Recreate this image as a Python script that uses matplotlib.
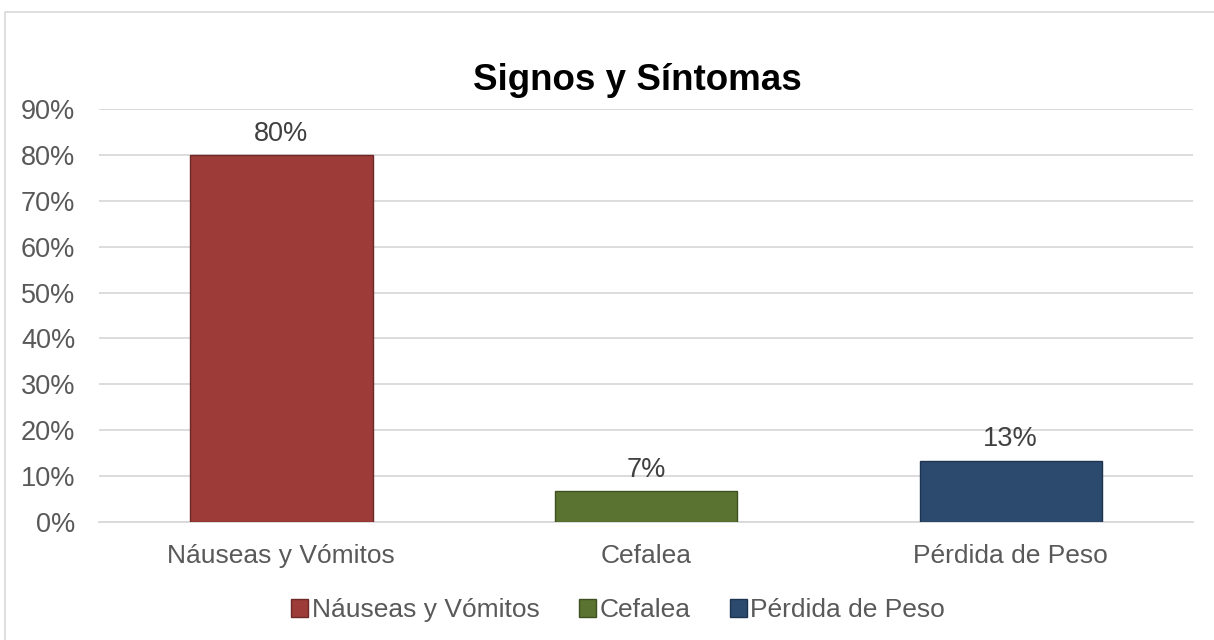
import matplotlib.pyplot as plt
from matplotlib.patches import Rectangle
from matplotlib.ticker import PercentFormatter

plt.rcParams['font.family'] = ['Liberation Sans', 'DejaVu Sans']

# datos
categorias = ['Náuseas y Vómitos', 'Cefalea', 'Pérdida de Peso']
valores = [12 / 15, 1 / 15, 2 / 15]
etiquetas = ['80%', '7%', '13%']
colores = ['#9D3B38', '#5B7330', '#2C4A6E']
bordes = ['#6E2826', '#3E5021', '#1D3350']

fig = plt.figure(figsize=(12.14, 6.4), dpi=100)
fig.patches.append(Rectangle((5 / 1214, -0.05), 1.2, 1 - 12 / 640 + 0.05,
                             transform=fig.transFigure, fill=False,
                             edgecolor='#D9D9D9', linewidth=1.2))

ax = fig.add_axes([99 / 1214, 1 - 522 / 640, 1094 / 1214, 413 / 640])
x = range(len(categorias))
barras = ax.bar(x, valores, width=0.5, color=colores, edgecolor=bordes,
                linewidth=1, zorder=3, label=categorias)

for b, txt in zip(barras, etiquetas):
    ax.annotate(txt, (b.get_x() + b.get_width() / 2, b.get_height()),
                xytext=(0, 6), textcoords='offset points', ha='center',
                va='bottom', fontsize=19.5, color='#404040')

ax.set_xlim(-0.5, 2.5)
ax.set_ylim(0, 0.9)
ax.set_yticks([i / 10 for i in range(10)])
ax.yaxis.set_major_formatter(PercentFormatter(1.0, decimals=0))
ax.set_xticks(list(x))
ax.set_xticklabels(categorias)
ax.tick_params(axis='both', length=0, labelsize=19, labelcolor='#595959')
ax.tick_params(axis='y', pad=17, labelsize=19.5)
ax.tick_params(axis='x', pad=16)
ax.grid(axis='y', color='#D9D9D9', linewidth=1.3, zorder=0)
for s in ['top', 'right', 'left']:
    ax.spines[s].set_visible(False)
ax.spines['bottom'].set_color('#D9D9D9')
ax.spines['bottom'].set_linewidth(1.3)

fig.text(637 / 1214, 1 - 80 / 640, 'Signos y Síntomas', ha='center',
         va='center', fontsize=26.5, fontweight='bold', color='black')

fig.legend(handles=barras, labels=categorias, loc='center',
           bbox_to_anchor=(618 / 1214, 1 - 610 / 640), ncol=3, frameon=False,
           fontsize=19, labelcolor='#595959', handlelength=0.65,
           handleheight=0.65, handletextpad=0.12, columnspacing=1.5)

fig.savefig('out.png', dpi=100)
